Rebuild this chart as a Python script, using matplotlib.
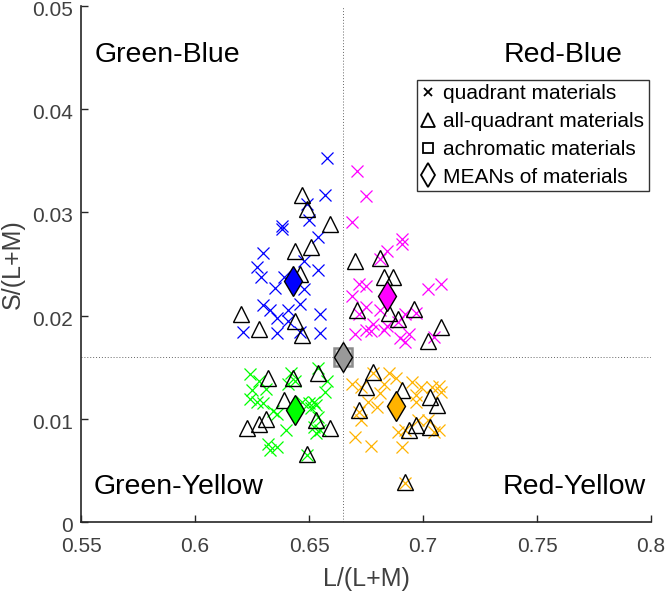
import matplotlib
matplotlib.use("Agg")
import matplotlib.pyplot as plt
from matplotlib.lines import Line2D
from matplotlib.transforms import ScaledTranslation

plt.rcParams['font.family'] = ['Liberation Sans', 'DejaVu Sans']

# Green-Blue quadrant
gb_x = [0.658, 0.657, 0.649, 0.650, 0.638, 0.638, 0.654, 0.630, 0.648, 0.627, 0.654, 0.629, 0.639,
        0.635, 0.648, 0.646, 0.630, 0.633, 0.641, 0.636, 0.641, 0.655, 0.621, 0.636, 0.646, 0.655]
gb_y = [0.0353, 0.0317, 0.0308, 0.0293, 0.0287, 0.0284, 0.0276, 0.0261, 0.0253, 0.0247, 0.0244, 0.0237, 0.0237,
        0.0227, 0.0226, 0.0211, 0.0210, 0.0205, 0.0205, 0.0198, 0.0195, 0.0202, 0.0184, 0.0183, 0.0184, 0.0183]
gb_tri_x = [0.647, 0.649, 0.659, 0.644, 0.651, 0.646, 0.620, 0.628, 0.644, 0.647]
gb_tri_y = [0.0317, 0.0303, 0.0289, 0.0263, 0.0266, 0.0240, 0.0202, 0.0187, 0.0195, 0.0181]
gb_mean = (0.643, 0.0234)

# Red-Blue quadrant
rb_x = [0.671, 0.675, 0.669, 0.691, 0.691, 0.684, 0.681, 0.672, 0.675, 0.669, 0.702, 0.708, 0.675, 0.672,
        0.681, 0.692, 0.697, 0.678, 0.675, 0.677, 0.670, 0.684, 0.689, 0.694, 0.690, 0.692, 0.705, 0.683]
rb_y = [0.0340, 0.0316, 0.0291, 0.0274, 0.0269, 0.0263, 0.0255, 0.0231, 0.0229, 0.0219, 0.0226, 0.0231, 0.0208, 0.0202,
        0.0205, 0.0202, 0.0203, 0.0192, 0.0186, 0.0185, 0.0182, 0.0190, 0.0194, 0.0182, 0.0178, 0.0174, 0.0179, 0.0186]
rb_tri_x = [0.670, 0.681, 0.683, 0.687, 0.671, 0.685, 0.689, 0.696, 0.708, 0.702]
rb_tri_y = [0.0253, 0.0256, 0.0237, 0.0237, 0.0205, 0.0203, 0.0197, 0.0206, 0.0189, 0.0175]
rb_mean = (0.684, 0.0219)

# Green-Yellow quadrant
gy_x = [0.624, 0.628, 0.631, 0.625, 0.642, 0.644, 0.641, 0.658, 0.657, 0.654, 0.627, 0.630, 0.634, 0.636, 0.647,
        0.650, 0.652, 0.653, 0.651, 0.654, 0.652, 0.653, 0.655, 0.640, 0.632, 0.636, 0.633, 0.649, 0.624]
gy_y = [0.0143, 0.0137, 0.0129, 0.0128, 0.0144, 0.0137, 0.0134, 0.0137, 0.0126, 0.0149, 0.0116, 0.0115, 0.0108, 0.0105, 0.0116,
        0.0115, 0.0116, 0.0113, 0.0110, 0.0102, 0.0092, 0.0086, 0.0089, 0.0089, 0.0076, 0.0073, 0.0070, 0.0065, 0.0119]
gy_tri_x = [0.632, 0.643, 0.654, 0.639, 0.631, 0.628, 0.623, 0.653, 0.659, 0.649]
gy_tri_y = [0.0140, 0.0140, 0.0144, 0.0118, 0.0100, 0.0095, 0.0091, 0.0099, 0.0091, 0.0066]
gy_mean = (0.644, 0.0109)

# Red-Yellow quadrant
ry_x = [0.669, 0.678, 0.685, 0.688, 0.683, 0.695, 0.699, 0.707, 0.708, 0.704, 0.697, 0.697, 0.676, 0.680,
        0.672, 0.673, 0.689, 0.692, 0.698, 0.702, 0.707, 0.705, 0.670, 0.677, 0.691, 0.673, 0.681, 0.692]
ry_y = [0.0134, 0.0144, 0.0144, 0.0140, 0.0134, 0.0136, 0.0131, 0.0132, 0.0126, 0.0131, 0.0123, 0.0116, 0.0116, 0.0111,
        0.0107, 0.0099, 0.0087, 0.0089, 0.0099, 0.0099, 0.0089, 0.0087, 0.0082, 0.0074, 0.0073, 0.0131, 0.0125, 0.0038]
ry_tri_x = [0.678, 0.675, 0.672, 0.691, 0.703, 0.706, 0.697, 0.694, 0.703, 0.692]
ry_tri_y = [0.0145, 0.0131, 0.0109, 0.0128, 0.0121, 0.0113, 0.0094, 0.0089, 0.0092, 0.0039]
ry_mean = (0.688, 0.0112)

achromatic = (0.665, 0.016)

quadrant_labels = ["Green-Blue", "Red-Blue", "Green-Yellow", "Red-Yellow"]
legend_labels = ["quadrant materials", "all-quadrant materials", "achromatic materials", "MEANs of materials"]
x_ticks = [0.55, 0.6, 0.65, 0.7, 0.75, 0.8]
x_ticklabels = ["0.55", "0.6", "0.65", "0.7", "0.75", "0.8"]
y_ticks = [0, 0.01, 0.02, 0.03, 0.04, 0.05]
y_ticklabels = ["0", "0.01", "0.02", "0.03", "0.04", "0.05"]

fig = plt.figure(figsize=(6.66, 5.93), dpi=100)
ax = fig.add_axes([81/666, 1-522/593, 570/666, 516/593])

dark = (0.15, 0.15, 0.15)
labgray = (0.25, 0.25, 0.25)
ax.axvline(achromatic[0], color=(0.4, 0.4, 0.4), ls=(0, (1, 2)), lw=0.7, zorder=1)
ax.axhline(achromatic[1], color=(0.4, 0.4, 0.4), ls=(0, (1, 2)), lw=0.7, zorder=1)

groups = [
    (gb_x, gb_y, gb_tri_x, gb_tri_y, gb_mean, (0, 0, 1)),
    (rb_x, rb_y, rb_tri_x, rb_tri_y, rb_mean, (1, 0, 1)),
    (gy_x, gy_y, gy_tri_x, gy_tri_y, gy_mean, (0, 1, 0)),
    (ry_x, ry_y, ry_tri_x, ry_tri_y, ry_mean, (1, 0.7, 0)),
]
for xs, ys, tx, ty, mean, col in groups:
    ax.plot(xs, ys, ls='none', marker='x', ms=8.8, mew=0.9, color=col, zorder=2)
for xs, ys, tx, ty, mean, col in groups:
    ax.plot(tx, ty, ls='none', marker='^', ms=11, mew=1.0, mfc='none', mec='black', zorder=3)
for xs, ys, tx, ty, mean, col in groups:
    ax.plot([mean[0]], [mean[1]], ls='none', marker='d', ms=15.5, mew=1.0, mfc=col, mec='black', zorder=5)

ax.plot([achromatic[0]], [achromatic[1]], ls='none', marker='s', ms=13.5, mew=1.8,
        mfc=(0.82, 0.82, 0.82), mec=(0.55, 0.55, 0.55), zorder=4)
ax.plot([achromatic[0]], [achromatic[1]], ls='none', marker='d', ms=15, mew=1.0,
        mfc=(0.6, 0.6, 0.6), mec='black', zorder=5)

ax.text(0.556, 0.0453, quadrant_labels[0], fontsize=20.5, ha='left', va='center', color='black')
ax.text(0.7875, 0.0453, quadrant_labels[1], fontsize=20.5, ha='right', va='center', color='black')
ax.text(0.5555, 0.0034, quadrant_labels[2], fontsize=20.5, ha='left', va='center', color='black')
ax.text(0.735, 0.0034, quadrant_labels[3], fontsize=20.5, ha='left', va='center', color='black')

ax.set_xlim(0.55, 0.8)
ax.set_ylim(0, 0.05)
ax.set_xticks(x_ticks)
ax.set_xticklabels(x_ticklabels)
ax.set_yticks(y_ticks)
ax.set_yticklabels(y_ticklabels)
ax.tick_params(direction='in', length=5, width=1.0, labelsize=15, colors=dark, labelcolor=labgray)
ax.tick_params(axis='x', pad=10.5)
ax.tick_params(axis='y', pad=6)
shift_down = ScaledTranslation(0, -2.5/100, fig.dpi_scale_trans)
for lab in ax.get_yticklabels():
    lab.set_transform(lab.get_transform() + shift_down)
for s in ['top', 'right']:
    ax.spines[s].set_visible(False)
for s in ['left', 'bottom']:
    ax.spines[s].set_color(dark)
    ax.spines[s].set_linewidth(1.2)
ax.set_xlabel("L/(L+M)", fontsize=18, color=labgray, labelpad=8)
ax.set_ylabel("S/(L+M)", fontsize=18, color=labgray, labelpad=5)

handles = [
    Line2D([], [], ls='none', marker='x', ms=6, mew=1.3, color='black'),
    Line2D([], [], ls='none', marker='^', ms=10, mew=1.3, mfc='none', mec='black'),
    Line2D([], [], ls='none', marker='s', ms=7, mew=1.3, mfc='none', mec='black'),
    Line2D([], [], ls='none', marker='d', ms=12, mew=1.3, mfc='none', mec='black'),
]
leg = ax.legend(handles, legend_labels, loc='upper right', bbox_to_anchor=(0.9965, 0.857),
                fontsize=15, frameon=True, fancybox=False, edgecolor='black',
                handlelength=0.6, handletextpad=0.45, labelspacing=0.42, borderpad=0.22,
                borderaxespad=0)
leg.get_frame().set_linewidth(1.0)

fig.savefig("out.png", dpi=100)
